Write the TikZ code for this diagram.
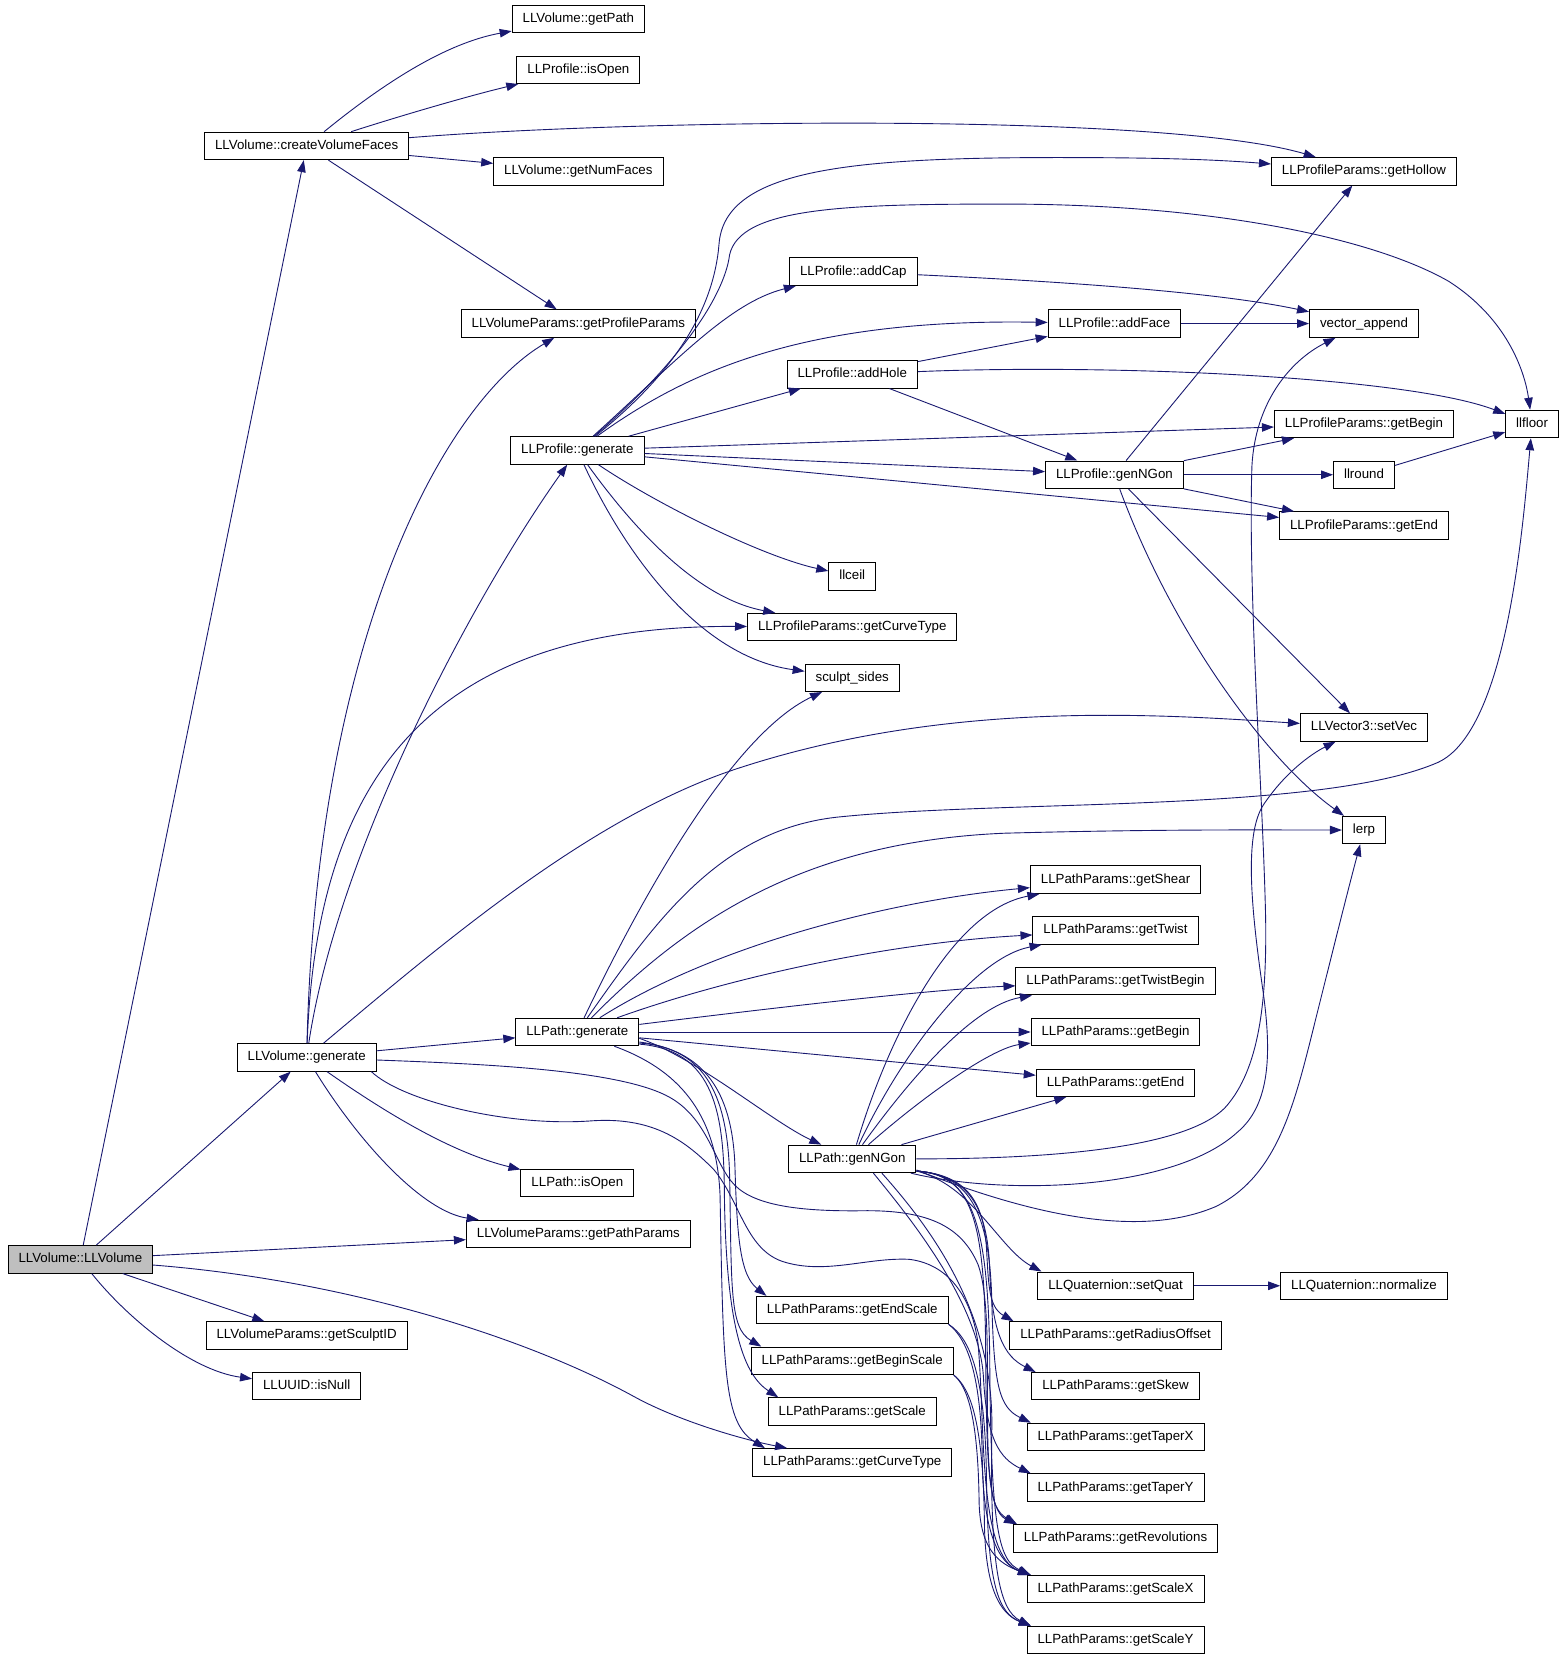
\documentclass[tikz,border=0pt]{standalone}
\usepackage{fontspec}
\setmainfont{Liberation Sans}
\usetikzlibrary{arrows.meta,calc}
\definecolor{navy}{RGB}{25,25,112}
\begin{document}
\begin{tikzpicture}[x=1.0575pt,y=-1.0575pt,
  fn/.style={draw=black, line width=1pt, fill=white,
    font=\fontsize{13.3pt}{15pt}\selectfont, inner xsep=10.5pt, inner ysep=0pt,
    minimum height=27.5pt, text height=9.6pt, text depth=2.6pt},
  ed/.style={draw=navy, line width=0.9pt, -{Triangle[length=12pt,width=8.5pt]}}]
\fill[white] (0,0) rectangle (1480,1569);
\useasboundingbox (0,0) rectangle (1480,1569);
% ---------------- nodes
\node[fn] (getpath) at (547,18) {LLVolume::getPath};
\node[fn] (pisopen) at (547,66) {LLProfile::isOpen};
\node[fn] (cvf) at (290,138) {LLVolume::createVolumeFaces};
\node[fn] (numfaces) at (547,162) {LLVolume::getNumFaces};
\node[fn] (hollow) at (1290,162) {LLProfileParams::getHollow};
\node[fn] (addcap) at (807,257) {LLProfile::addCap};
\node[fn] (profparams) at (547,306) {LLVolumeParams::getProfileParams};
\node[fn] (addface) at (1054,306) {LLProfile::addFace};
\node[fn] (vappend) at (1290,306) {vector\_append};
\node[fn] (addhole) at (806,354) {LLProfile::addHole};
\node[fn] (llfloor) at (1449,401) {llfloor};
\node[fn] (ppbegin) at (1290,401) {LLProfileParams::getBegin};
\node[fn] (profgen) at (546,426) {LLProfile::generate};
\node[fn] (pgenngon) at (1054,449) {LLProfile::genNGon};
\node[fn] (llround) at (1290,449) {llround};
\node[fn] (ppend) at (1290,497) {LLProfileParams::getEnd};
\node[fn] (llceil) at (806,545) {llceil};
\node[fn] (ppcurve) at (806,593) {LLProfileParams::getCurveType};
\node[fn] (sculpt) at (806,641) {sculpt\_sides};
\node[fn] (setvec) at (1290,688) {LLVector3::setVec};
\node[fn] (lerp) at (1290,785) {lerp};
\node[fn] (shear) at (1055,832) {LLPathParams::getShear};
\node[fn] (twist) at (1055,880) {LLPathParams::getTwist};
\node[fn] (twistbegin) at (1055,928) {LLPathParams::getTwistBegin};
\node[fn] (pbegin) at (1055,976) {LLPathParams::getBegin};
\node[fn] (gen) at (290,1000) {LLVolume::generate};
\node[fn] (pathgen) at (546,976) {LLPath::generate};
\node[fn] (pend) at (1055,1024) {LLPathParams::getEnd};
\node[fn] (genngon) at (806,1096) {LLPath::genNGon};
\node[fn] (pathisopen) at (546,1119) {LLPath::isOpen};
\node[fn] (pathparams) at (547,1167) {LLVolumeParams::getPathParams};
\node[fn, fill=gray!50] (vol) at (76,1191) {LLVolume::LLVolume};
\node[fn] (setquat) at (1055,1216) {LLQuaternion::setQuat};
\node[fn] (normalize) at (1290,1216) {LLQuaternion::normalize};
\node[fn] (endscale) at (806,1239) {LLPathParams::getEndScale};
\node[fn] (sculptid) at (290,1263) {LLVolumeParams::getSculptID};
\node[fn] (radius) at (1055,1263) {LLPathParams::getRadiusOffset};
\node[fn] (beginscale) at (806,1287) {LLPathParams::getBeginScale};
\node[fn] (isnull) at (290,1311) {LLUUID::isNull};
\node[fn] (skew) at (1055,1311) {LLPathParams::getSkew};
\node[fn] (scale) at (806,1335) {LLPathParams::getScale};
\node[fn] (taperx) at (1055,1359) {LLPathParams::getTaperX};
\node[fn] (pcurve) at (806,1383) {LLPathParams::getCurveType};
\node[fn] (tapery) at (1055,1407) {LLPathParams::getTaperY};
\node[fn] (revol) at (1055,1455) {LLPathParams::getRevolutions};
\node[fn] (scalex) at (1055,1503) {LLPathParams::getScaleX};
\node[fn] (scaley) at (1055,1551) {LLPathParams::getScaleY};
% ---------------- LLVolume::LLVolume
\draw[ed] (vol) -- (cvf);
\draw[ed] (vol) -- (gen);
\draw[ed] (vol) -- (pathparams);
\draw[ed] (vol) -- (sculptid);
\draw[ed] (vol) .. controls (120,1246) and (180,1296) .. (isnull);
\draw[ed] (vol) .. controls (330,1211) and (500,1266) .. (600,1321) .. controls (640,1343) and (700,1361) .. ($(pcurve.north west)+(33,0)$);
% ---------------- createVolumeFaces
\draw[ed] (cvf) .. controls (360,81) and (420,41) .. (getpath);
\draw[ed] (cvf) .. controls (390,106) and (450,89) .. (pisopen);
\draw[ed] (cvf) .. controls (600,113) and (1100,106) .. (hollow);
\draw[ed] (cvf) -- (numfaces);
\draw[ed] (cvf) -- (profparams);
% ---------------- LLVolume::generate
\draw[ed] (gen) .. controls (300,601) and (420,381) .. (profparams);
\draw[ed] (gen) .. controls (320,801) and (450,561) .. (profgen);
\draw[ed] (gen) .. controls (300,721) and (420,591) .. (ppcurve);
\draw[ed] (gen) .. controls (420,891) and (560,771) .. (700,726) .. controls (900,661) and (1100,676) .. (setvec);
\draw[ed] (gen) -- (pathgen);
\draw[ed] (gen) .. controls (370,1056) and (430,1091) .. (pathisopen);
\draw[ed] (gen) .. controls (340,1081) and (400,1146) .. (pathparams);
\draw[ed] (gen) .. controls (450,1006) and (580,1011) .. (630,1036) .. controls (670,1056) and (675,1101) .. (695,1121) .. controls (715,1141) and (760,1146) .. (820,1145) .. controls (880,1145) and (910,1161) .. (925,1196) .. controls (945,1251) and (920,1421) .. ($(revol.north west)+(3,0)$);
\draw[ed] ($(gen.south east)+(-5,0)$) .. controls (380,1041) and (480,1066) .. (560,1060) .. controls (620,1056) and (650,1081) .. (675,1106) .. controls (700,1136) and (705,1181) .. (740,1193) .. controls (780,1206) and (820,1189) .. (860,1191) .. controls (900,1196) and (920,1231) .. (925,1271) .. controls (932,1351) and (925,1471) .. ($(scalex.north west)+(3,0)$);
% ---------------- LLProfile::generate
\draw[ed] (profgen) .. controls (640,351) and (675,291) .. (680,231) .. controls (685,161) and (800,149) .. (1000,149) .. controls (1100,149) and (1150,151) .. (hollow);
\draw[ed] (profgen) .. controls (640,346) and (685,281) .. (690,241) .. controls (700,196) and (800,193) .. (950,193) .. controls (1150,193) and (1300,226) .. (1370,266) .. controls (1425,301) and (1442,351) .. (llfloor);
\draw[ed] (profgen) .. controls (640,341) and (690,286) .. (addcap);
\draw[ed] (profgen) .. controls (650,351) and (760,301) .. (addface);
\draw[ed] (profgen) -- (addhole);
\draw[ed] (profgen) -- (ppbegin);
\draw[ed] (profgen) -- (pgenngon);
\draw[ed] (profgen) -- (ppend);
\draw[ed] (profgen) .. controls (620,476) and (720,526) .. (llceil);
\draw[ed] (profgen) .. controls (600,501) and (660,566) .. (ppcurve);
\draw[ed] (profgen) .. controls (590,521) and (660,621) .. (sculpt);
% ---------------- profile helpers
\draw[ed] (addcap) .. controls (1000,266) and (1150,276) .. (vappend);
\draw[ed] (addface) -- (vappend);
\draw[ed] (addhole) -- (addface);
\draw[ed] (addhole) .. controls (1050,344) and (1330,356) .. (llfloor);
\draw[ed] (addhole) -- (pgenngon);
\draw[ed] (pgenngon) -- (hollow);
\draw[ed] (pgenngon) -- (ppbegin);
\draw[ed] (pgenngon) -- (llround);
\draw[ed] (pgenngon) -- (ppend);
\draw[ed] (pgenngon) -- (setvec);
\draw[ed] (pgenngon) .. controls (1110,601) and (1200,721) .. (lerp);
\draw[ed] (llround) -- (llfloor);
% ---------------- LLPath::generate
\draw[ed] (pathgen) .. controls (620,821) and (700,691) .. (sculpt);
\draw[ed] (pathgen) .. controls (620,871) and (680,786) .. (790,773) .. controls (950,756) and (1250,769) .. (1360,721) .. controls (1425,691) and (1440,501) .. (llfloor);
\draw[ed] (pathgen) .. controls (650,871) and (760,796) .. (950,788) .. controls (1100,784) and (1200,785) .. (lerp);
\draw[ed] (pathgen) .. controls (680,891) and (850,851) .. (shear);
\draw[ed] (pathgen) .. controls (700,921) and (850,891) .. (twist);
\draw[ed] (pathgen) .. controls (750,951) and (880,936) .. (twistbegin);
\draw[ed] (pathgen) -- (pbegin);
\draw[ed] (pathgen) -- (pend);
\draw[ed] ($(pathgen.east)+(0,6)$) .. controls (660,1001) and (730,1061) .. (genngon);
\draw[ed] ($(pathgen.south east)+(0,-4)$) .. controls (665,993) and (692,1031) .. (695,1101) .. controls (697,1171) and (700,1206) .. ($(endscale.north west)+(10,0)$);
\draw[ed] ($(pathgen.south east)+(0,-3)$) .. controls (670,991) and (688,1041) .. (690,1111) .. controls (692,1221) and (690,1256) .. ($(beginscale.north west)+(10,0)$);
\draw[ed] ($(pathgen.south east)+(0,-2)$) .. controls (672,993) and (684,1046) .. (685,1121) .. controls (686,1261) and (705,1301) .. ($(scale.north west)+(10,0)$);
\draw[ed] ($(pathgen.south)+(35,0)$) .. controls (640,1011) and (678,1051) .. (681,1131) .. controls (684,1301) and (685,1346) .. ($(pcurve.north west)+(12,0)$);
% ---------------- LLPath::genNGon
\draw[ed] (genngon) .. controls (840,981) and (900,861) .. (shear);
\draw[ed] (genngon) .. controls (850,1001) and (920,906) .. (twist);
\draw[ed] (genngon) .. controls (860,1021) and (920,951) .. (twistbegin);
\draw[ed] (genngon) .. controls (880,1031) and (940,991) .. (pbegin);
\draw[ed] (genngon) -- (pend);
\draw[ed] (genngon) .. controls (960,1096) and (1120,1091) .. (1160,1046) .. controls (1190,1011) and (1198,951) .. (1197,871) .. controls (1195,761) and (1180,561) .. (1184,441) .. controls (1187,381) and (1220,341) .. (vappend);
\draw[ed] (genngon) .. controls (950,1131) and (1110,1126) .. (1170,1071) .. controls (1200,1046) and (1203,1001) .. (1195,941) .. controls (1185,871) and (1175,791) .. (1195,761) .. controls (1215,731) and (1240,713) .. (setvec);
\draw[ed] ($(genngon.south east)+(0,-3)$) .. controls (980,1151) and (1080,1171) .. (1150,1141) .. controls (1210,1111) and (1225,1041) .. (1245,961) .. controls (1260,901) and (1275,841) .. (lerp);
\draw[ed] ($(genngon.south east)+(0,-2)$) .. controls (920,1121) and (945,1181) .. ($(setquat.north west)+(4,0)$);
\draw[ed] ($(genngon.south east)+(0,-2)$) .. controls (910,1111) and (930,1131) .. (933,1181) .. controls (935,1216) and (935,1236) .. ($(radius.north west)+(4,0)$);
\draw[ed] ($(genngon.south east)+(0,-2)$) .. controls (912,1111) and (934,1136) .. (936,1201) .. controls (938,1261) and (950,1283) .. ($(skew.north west)+(4,0)$);
\draw[ed] ($(genngon.south east)+(0,-2)$) .. controls (914,1111) and (936,1141) .. (938,1231) .. controls (940,1311) and (945,1331) .. ($(taperx.north west)+(4,0)$);
\draw[ed] ($(genngon.south)+(20,0)$) .. controls (860,1151) and (925,1231) .. (930,1301) .. controls (933,1361) and (945,1379) .. ($(tapery.north west)+(4,0)$);
\draw[ed] ($(genngon.south east)+(0,-2)$) .. controls (916,1111) and (930,1146) .. (932,1261) .. controls (933,1401) and (935,1426) .. ($(revol.north west)+(4,0)$);
\draw[ed] ($(genngon.south east)+(0,-2)$) .. controls (918,1111) and (934,1151) .. (936,1281) .. controls (937,1451) and (945,1476) .. ($(scalex.north west)+(4,0)$);
\draw[ed] ($(genngon.south)+(28,0)$) .. controls (880,1161) and (940,1241) .. (938,1351) .. controls (936,1481) and (945,1523) .. ($(scaley.north west)+(4,0)$);
% ---------------- scale helpers
\draw[ed] (endscale.south east) .. controls (915,1266) and (928,1301) .. (929,1381) .. controls (930,1451) and (945,1479) .. ($(scalex.north west)+(4,0)$);
\draw[ed] (endscale.south east) .. controls (918,1266) and (932,1301) .. (933,1401) .. controls (934,1501) and (945,1526) .. ($(scaley.north west)+(4,0)$);
\draw[ed] (beginscale.south east) .. controls (915,1311) and (925,1341) .. (926,1421) .. controls (927,1466) and (945,1479) .. ($(scalex.north west)+(4,0)$);
\draw[ed] (beginscale.south east) .. controls (918,1313) and (930,1346) .. (931,1441) .. controls (932,1501) and (945,1526) .. ($(scaley.north west)+(4,0)$);
\draw[ed] (setquat) -- (normalize);
\end{tikzpicture}
\end{document}
